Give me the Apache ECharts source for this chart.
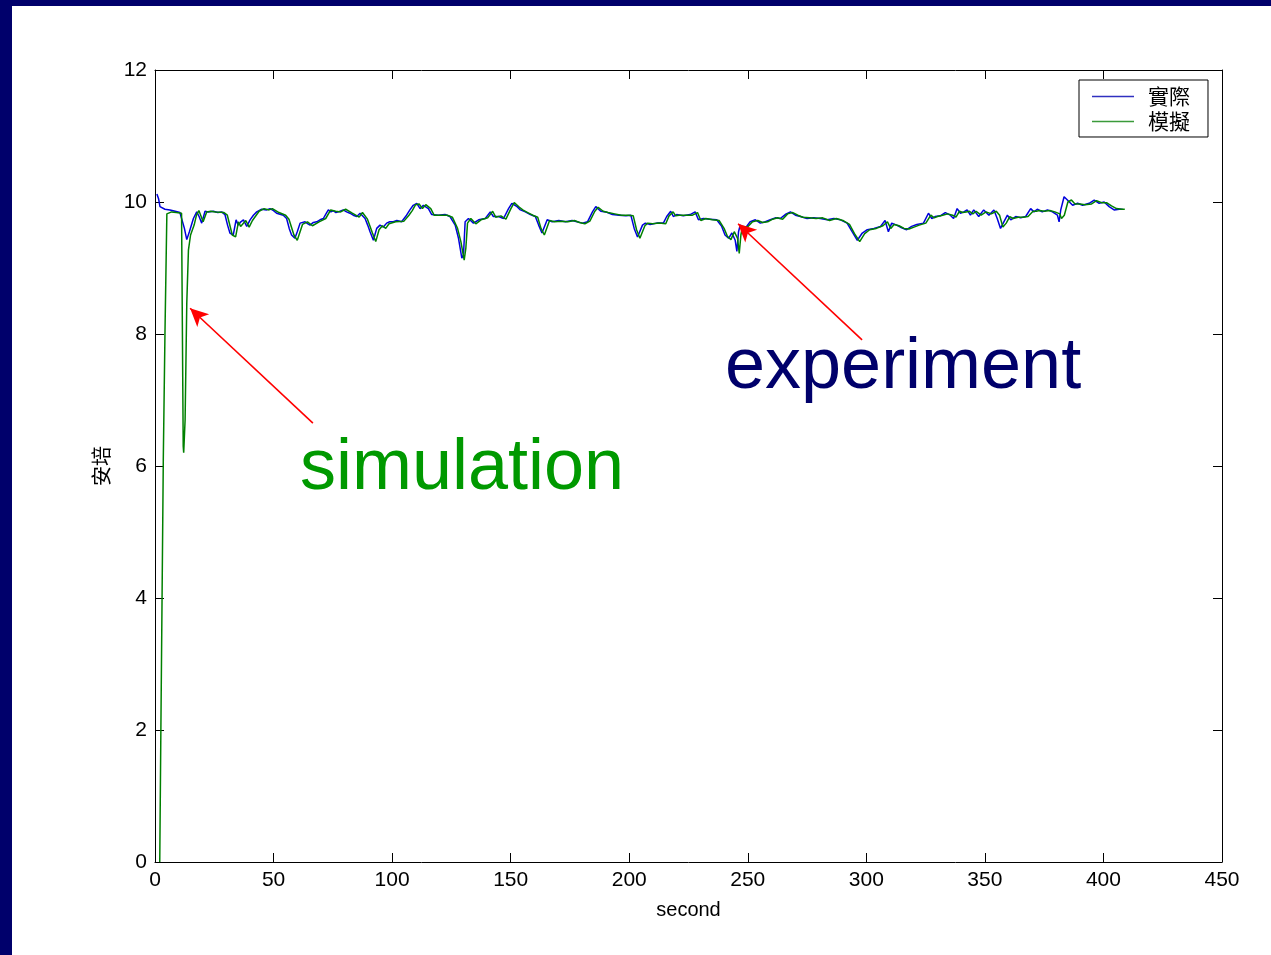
<!DOCTYPE html>
<html>
<head>
<meta charset="utf-8">
<script src="https://cdn.jsdelivr.net/npm/echarts@6/dist/echarts.min.js"></script>
<style>
html,body{margin:0;padding:0;background:#00006b;width:1271px;height:955px;overflow:hidden;}
#chart{position:absolute;left:12px;top:6px;width:1259px;height:949px;background:#ffffff;}
</style>
</head>
<body>
<div id="chart"></div>
<script>
// ---- data ----
const seriesNames = ['實際', '模擬'];
const xTicks = [0, 50, 100, 150, 200, 250, 300, 350, 400, 450];
const yTicks = [0, 2, 4, 6, 8, 10, 12];
const experiment = [
[0.8,10.12],[1.5,10.05],[2.1,9.93],[4.2,9.89],[6.3,9.88],[8.5,9.86],[10.5,9.84],[11.3,9.82],[12.4,9.6],[13.4,9.43],[14.5,9.55],[16.2,9.75],[17.6,9.85],[18.6,9.78],[19.7,9.68],[21.1,9.86],[22.5,9.85],[24.6,9.86],[26.5,9.84],[28.1,9.85],[29.5,9.81],[30.6,9.65],[31.6,9.53],[33.0,9.5],[34.2,9.73],[35.1,9.65],[36.2,9.7],[37.3,9.73],[38.7,9.63],[40.1,9.73],[41.5,9.8],[42.9,9.85],[45.0,9.89],[47.1,9.88],[48.5,9.9],[50.0,9.87],[51.3,9.83],[54.1,9.8],[55.5,9.75],[56.6,9.6],[57.6,9.5],[59.0,9.45],[60.0,9.55],[61.2,9.68],[63.3,9.7],[64.5,9.67],[65.4,9.65],[66.8,9.69],[68.2,9.7],[69.6,9.73],[71.0,9.75],[72.1,9.82],[73.1,9.88],[74.2,9.85],[75.2,9.87],[76.3,9.84],[77.3,9.85],[79.4,9.88],[80.8,9.85],[82.2,9.83],[83.6,9.8],[85.1,9.78],[86.5,9.83],[88.6,9.75],[89.7,9.65],[90.7,9.55],[92.1,9.42],[93.5,9.6],[94.9,9.65],[96.3,9.62],[97.7,9.68],[99.0,9.7],[100.5,9.7],[102.0,9.72],[104.0,9.7],[106.1,9.8],[107.5,9.88],[108.9,9.95],[110.4,9.98],[111.8,9.9],[113.2,9.95],[115.3,9.9],[116.7,9.81],[119.5,9.8],[122.3,9.81],[124.4,9.78],[126.6,9.65],[128.0,9.45],[129.4,9.15],[130.1,9.2],[130.8,9.7],[132.2,9.75],[134.3,9.68],[136.5,9.73],[139.3,9.75],[141.4,9.85],[142.7,9.78],[144.9,9.78],[147.0,9.75],[149.1,9.9],[150.5,9.98],[152.7,9.93],[154.1,9.88],[156.2,9.85],[158.3,9.81],[160.4,9.78],[161.8,9.65],[163.2,9.53],[165.4,9.73],[167.5,9.7],[170.3,9.72],[173.1,9.7],[175.9,9.72],[178.0,9.7],[180.3,9.68],[182.4,9.7],[184.5,9.85],[185.9,9.93],[188.0,9.86],[190.1,9.85],[192.9,9.81],[195.7,9.8],[198.6,9.79],[200.7,9.8],[202.1,9.6],[203.5,9.47],[205.6,9.65],[206.8,9.68],[208.8,9.66],[211.6,9.68],[214.4,9.68],[215.8,9.78],[217.5,9.86],[218.6,9.78],[220.0,9.81],[222.8,9.79],[225.7,9.81],[227.8,9.85],[229.2,9.73],[231.3,9.75],[234.1,9.74],[236.9,9.73],[239.0,9.63],[240.4,9.5],[241.9,9.45],[243.3,9.53],[244.7,9.42],[245.4,9.25],[246.1,9.55],[246.8,9.65],[248.9,9.6],[251.0,9.7],[253.2,9.73],[255.3,9.68],[257.4,9.7],[259.5,9.73],[261.6,9.76],[263.7,9.75],[265.8,9.81],[268.0,9.85],[270.1,9.8],[272.2,9.78],[275.0,9.75],[277.8,9.76],[280.6,9.75],[283.5,9.73],[286.3,9.75],[289.1,9.73],[291.9,9.68],[294.0,9.55],[296.2,9.42],[298.3,9.53],[300.4,9.58],[303.2,9.6],[306.0,9.63],[307.9,9.72],[309.3,9.55],[310.7,9.68],[312.8,9.65],[314.9,9.61],[317.0,9.58],[319.1,9.63],[321.3,9.66],[324.1,9.68],[326.2,9.83],[327.6,9.75],[329.0,9.78],[331.2,9.79],[333.3,9.84],[335.4,9.8],[336.8,9.75],[338.3,9.9],[339.7,9.83],[341.1,9.85],[342.5,9.88],[343.9,9.8],[345.3,9.88],[347.4,9.78],[349.5,9.88],[351.7,9.8],[353.8,9.88],[355.2,9.75],[356.6,9.6],[358.0,9.7],[359.5,9.8],[360.9,9.73],[363.0,9.78],[365.1,9.76],[367.2,9.78],[369.3,9.9],[370.7,9.85],[372.1,9.89],[374.2,9.85],[376.4,9.88],[378.5,9.85],[380.6,9.8],[381.3,9.7],[382.0,9.88],[383.4,10.08],[384.8,10.03],[387.0,9.95],[389.1,9.98],[391.2,9.95],[394.0,9.98],[396.1,10.03],[398.2,9.98],[400.3,10.0],[402.4,9.93],[404.5,9.88],[406.7,9.89],[408.1,9.89]
];
const simulation = [
[2.0,0],[2.5,2.1],[3.0,4.1],[3.5,6.1],[4.2,8.0],[5.0,9.82],[7.0,9.85],[9.0,9.84],[11.2,9.83],[11.9,6.3],[12.1,6.2],[12.7,6.7],[13.4,8.46],[14.1,9.27],[15.0,9.5],[16.5,9.65],[17.5,9.8],[18.5,9.87],[20.3,9.7],[21.8,9.85],[23.5,9.86],[25.6,9.85],[29.1,9.84],[30.5,9.8],[32.6,9.5],[34.0,9.47],[35.2,9.7],[36.1,9.63],[38.3,9.72],[39.7,9.62],[41.1,9.72],[43.9,9.86],[46.0,9.9],[48.1,9.88],[49.5,9.9],[52.3,9.84],[55.1,9.8],[56.5,9.74],[58.6,9.5],[60.0,9.42],[62.2,9.66],[64.3,9.7],[66.4,9.64],[69.2,9.7],[72.0,9.75],[74.1,9.88],[76.2,9.86],[78.3,9.85],[80.4,9.89],[83.2,9.83],[86.1,9.77],[87.5,9.84],[89.6,9.74],[91.7,9.53],[93.1,9.4],[94.5,9.58],[95.9,9.64],[97.3,9.6],[98.7,9.67],[101.5,9.7],[105.0,9.71],[107.1,9.8],[108.5,9.87],[109.9,9.96],[111.4,9.97],[112.8,9.9],[114.2,9.96],[116.3,9.9],[117.7,9.8],[120.5,9.8],[123.3,9.8],[125.4,9.77],[127.6,9.6],[129.0,9.4],[130.4,9.12],[131.1,9.3],[131.8,9.68],[133.2,9.75],[135.3,9.67],[137.5,9.73],[140.3,9.76],[142.4,9.86],[143.7,9.77],[145.9,9.79],[148.0,9.74],[150.1,9.9],[151.5,9.99],[153.7,9.92],[155.1,9.88],[157.2,9.84],[159.3,9.8],[161.4,9.77],[162.8,9.6],[164.2,9.5],[166.4,9.72],[168.5,9.7],[171.3,9.71],[174.1,9.7],[176.9,9.72],[179.0,9.69],[181.3,9.67],[183.4,9.71],[185.5,9.86],[186.9,9.92],[189.0,9.86],[191.1,9.84],[193.9,9.82],[196.7,9.8],[199.6,9.8],[201.7,9.79],[203.1,9.58],[204.5,9.45],[206.6,9.64],[207.8,9.68],[209.8,9.67],[212.6,9.68],[215.4,9.67],[216.8,9.79],[218.5,9.85],[219.6,9.79],[221.0,9.8],[223.8,9.8],[226.7,9.8],[228.8,9.84],[230.2,9.72],[232.3,9.75],[235.1,9.73],[237.9,9.72],[240.0,9.6],[241.4,9.48],[242.9,9.43],[244.3,9.55],[245.7,9.45],[246.4,9.22],[247.1,9.5],[247.8,9.63],[249.9,9.62],[252.0,9.7],[254.2,9.72],[256.3,9.69],[258.4,9.7],[260.5,9.74],[262.6,9.76],[264.7,9.74],[266.8,9.82],[269.0,9.84],[271.1,9.8],[273.2,9.77],[276.0,9.76],[278.8,9.75],[281.6,9.76],[284.5,9.72],[287.3,9.75],[290.1,9.72],[292.9,9.66],[295.0,9.52],[297.2,9.4],[299.3,9.52],[301.4,9.58],[304.2,9.6],[307.0,9.64],[308.9,9.7],[310.3,9.6],[311.7,9.66],[313.8,9.64],[315.9,9.6],[318.0,9.59],[320.1,9.62],[322.3,9.65],[325.1,9.68],[327.2,9.8],[328.6,9.76],[330.0,9.78],[332.2,9.8],[334.3,9.82],[336.4,9.8],[337.8,9.77],[339.3,9.86],[340.7,9.84],[342.1,9.85],[343.5,9.86],[344.9,9.82],[346.3,9.86],[348.4,9.8],[350.5,9.85],[352.7,9.82],[354.8,9.86],[356.2,9.8],[357.6,9.62],[359.0,9.68],[360.5,9.78],[361.9,9.75],[364.0,9.77],[366.1,9.77],[368.2,9.78],[370.3,9.86],[371.7,9.86],[373.1,9.87],[375.2,9.86],[377.4,9.87],[379.5,9.85],[381.6,9.82],[382.3,9.75],[383.5,9.8],[385.0,10.0],[386.5,10.03],[388.0,9.97],[390.1,9.97],[392.2,9.96],[395.0,9.97],[397.1,10.02],[399.2,9.99],[401.3,9.99],[403.4,9.94],[405.5,9.9],[407.7,9.89],[409.0,9.89]
];
// annotation arrows: [from, to] in data units
const simArrow = [[66.6, 6.65], [14.8, 8.39]];
const expArrow = [[298.2, 7.91], [245.9, 9.67]];
const annotations = ['simulation', 'experiment'];
const axisNames = { x: 'second', y: '安培' };

// ---- chart ----
const chart = echarts.init(document.getElementById('chart'), null, { renderer: 'canvas' });
const fontLatin = '"Liberation Sans", Arial, sans-serif';
const fontCJK = '"Noto Sans CJK TC", "Noto Sans CJK SC", sans-serif';
const xMin = xTicks[0], xMax = xTicks[xTicks.length - 1], xInt = xTicks[1] - xTicks[0];
const yMin = yTicks[0], yMax = yTicks[yTicks.length - 1], yInt = yTicks[1] - yTicks[0];

function axisCommon(showLabel) {
  return {
    axisLine: { show: true, onZero: false, lineStyle: { color: '#000', width: 1 } },
    axisTick: { show: true, inside: true, length: 9, lineStyle: { color: '#000', width: 1 } },
    axisLabel: { show: showLabel, color: '#000', fontSize: 21, fontFamily: fontLatin, margin: 8 },
    splitLine: { show: false }
  };
}

const option = {
  animation: false,
  backgroundColor: '#ffffff',
  grid: { left: 143, top: 64, right: 49, bottom: 93, show: false },
  legend: {
    data: seriesNames.map(function (n) { return { name: n, icon: 'rect' }; }),
    orient: 'vertical',
    left: 1067,
    top: 74,
    itemWidth: 42,
    itemHeight: 1.5,
    itemGap: 4,
    padding: [6, 18, 5, 13],
    borderColor: '#000',
    borderWidth: 1,
    backgroundColor: '#fff',
    textStyle: { fontSize: 21, color: '#000', fontFamily: fontCJK, padding: [0, 0, 0, 9] }
  },
  xAxis: [
    Object.assign({ type: 'value', position: 'bottom', min: xMin, max: xMax, interval: xInt,
      name: axisNames.x, nameLocation: 'middle', nameGap: 38,
      nameTextStyle: { fontSize: 20, color: '#000', fontFamily: fontLatin } }, axisCommon(true)),
    Object.assign({ type: 'value', position: 'top', min: xMin, max: xMax, interval: xInt }, axisCommon(false))
  ],
  yAxis: [
    Object.assign({ type: 'value', position: 'left', min: yMin, max: yMax, interval: yInt,
      name: axisNames.y, nameLocation: 'middle', nameGap: 44, nameRotate: 90,
      nameTextStyle: { fontSize: 20, color: '#000', fontFamily: fontCJK } }, axisCommon(true)),
    Object.assign({ type: 'value', position: 'right', min: yMin, max: yMax, interval: yInt }, axisCommon(false))
  ],
  series: [
    {
      name: seriesNames[0], type: 'line', data: experiment, symbol: 'none', showSymbol: false,
      lineStyle: { color: '#0000dd', width: 1.5 }, itemStyle: { color: '#3030c0' }, z: 2
    },
    {
      name: seriesNames[1], type: 'line', data: simulation, symbol: 'none', showSymbol: false,
      lineStyle: { color: '#008000', width: 1.5 }, itemStyle: { color: '#3a9a3a' }, z: 3,
      markLine: {
        silent: true, animation: false,
        symbol: ['none', 'arrow'], symbolSize: [13, 18],
        label: { show: false },
        lineStyle: { color: '#ff0000', width: 1.6, type: 'solid' },
        data: [
          [{ coord: simArrow[0] }, { coord: simArrow[1] }],
          [{ coord: expArrow[0] }, { coord: expArrow[1] }]
        ]
      }
    }
  ],
  graphic: [
    { type: 'text', left: 288, top: 427, style: { text: annotations[0], font: '72px "Liberation Sans", Arial, sans-serif', fill: '#009900' } },
    { type: 'text', left: 713, top: 326, style: { text: annotations[1], font: '72px "Liberation Sans", Arial, sans-serif', fill: '#00006b' } }
  ]
};
chart.setOption(option);
</script>
</body>
</html>
